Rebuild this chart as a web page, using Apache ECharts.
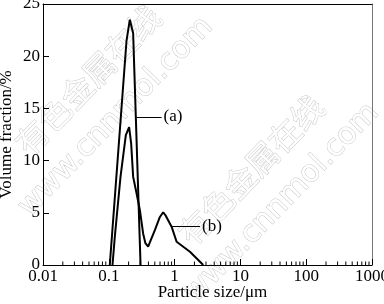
<!DOCTYPE html>
<html>
<head>
<meta charset="utf-8">
<script src="https://cdn.jsdelivr.net/npm/echarts@6/dist/echarts.min.js"></script>
<style>html,body{margin:0;padding:0;background:#fff;}#c{width:384px;height:304px;}</style>
</head>
<body>
<div id="c"></div>
<script>
// Curve (a)
var sizeA = [0.1035, 0.186, 0.2088, 0.2344, 0.3038];
var fracA = [0, 21.5, 23.5, 22.2, 0];
// Curve (b)
var sizeB = [0.1138, 0.1234, 0.1507, 0.1815, 0.2037, 0.2185, 0.2344, 0.264, 0.2964, 0.3328, 0.3594, 0.3964, 0.4359, 0.5015, 0.5975, 0.6706, 0.7373, 0.9, 1.073, 1.71, 2.287, 2.725];
var fracB = [0, 2.7, 8.46, 12.45, 13.2, 11.66, 8.46, 6.87, 5.27, 3.0, 2.1, 1.75, 2.4, 3.35, 4.6, 5.05, 4.7, 3.67, 2.23, 1.27, 0.48, 0];
// Tick labels
var xTickLabels = ['0.01', '0.1', '1', '10', '100', '1000'];
var yTickLabels = ['0', '5', '10', '15', '20', '25'];
// Leader lines for curve labels: [x start, x end, y]
var leaderA = [0.264, 0.634, 14.2];
var leaderB = [0.9, 2.43, 3.67];
var seriesNames = ['(a)', '(b)'];

// minor tick values on the log axis (2..9 of each decade)
var decades = [0.01, 0.1, 1, 10, 100];
var minorMultipliers = [2, 3, 4, 5, 6, 7, 8, 9];
var minorTicks = [];
decades.forEach(function (d) {
  minorMultipliers.forEach(function (k) { minorTicks.push(+(k * d).toPrecision(6)); });
});

function pairs(xs, ys) { return xs.map(function (x, i) { return [x, ys[i]]; }); }

var serif = 'Liberation Serif';
var chart = echarts.init(document.getElementById('c'), null, { renderer: 'canvas' });

function leader(l, name) {
  return {
    silent: true,
    symbol: ['none', 'none'],
    lineStyle: { color: '#000', width: 1, type: 'solid' },
    label: { show: true, position: 'end', formatter: name, color: '#000', fontFamily: serif, fontSize: 17, distance: 2 },
    data: [[{ coord: [l[0], l[2]] }, { coord: [l[1], l[2]] }]]
  };
}

function wm(text, x, y, font, size) {
  return {
    type: 'text', x: x, y: y, rotation: 0.80, z: -10, silent: true,
    style: { text: text, fontFamily: font, fontSize: size, align: 'center', verticalAlign: 'middle',
      fill: '#ffffff', stroke: '#c8c8c8', lineWidth: 1 }
  };
}

chart.setOption({
  backgroundColor: '#fff',
  animation: false,
  graphic: [
    wm('有色金属在线', 88, 80, 'Noto Sans CJK SC', 32),
    wm('www.cnnmol.com', 116, 117, 'DejaVu Sans', 30),
    wm('有色金属在线', 251, 170, 'Noto Sans CJK SC', 32),
    wm('www.cnnmol.com', 282, 203, 'DejaVu Sans', 30)
  ],
  grid: { left: 43, right: 12, top: 4, bottom: 39, containLabel: false, outerBoundsMode: 'none' },
  xAxis: [
    {
      type: 'log', logBase: 10, min: 0.01, max: 1000, position: 'bottom',
      name: 'Particle size/μm', nameLocation: 'middle', nameGap: 19, nameMoveOverlap: false,
      nameTextStyle: { fontFamily: serif, fontSize: 17, color: '#000', padding: [0, 0, 0, 10] },
      axisLine: { show: true, onZero: false, lineStyle: { color: '#000', width: 1 } },
      axisTick: { show: true, inside: true, length: 6, lineStyle: { color: '#000' } },
      axisLabel: {
        fontFamily: serif, fontSize: 17, color: '#000', margin: 3, hideOverlap: false,
        formatter: function (v) { return xTickLabels[Math.round(Math.log10(v)) + 2]; }
      },
      splitLine: { show: false }
    },
    {
      type: 'log', logBase: 10, min: 0.01, max: 1000, position: 'top',
      axisLine: { show: true, onZero: false, lineStyle: { color: '#000', width: 1 } },
      axisTick: { show: false }, axisLabel: { show: false }, splitLine: { show: false }
    }
  ],
  yAxis: [
    {
      type: 'value', min: 0, max: 25, interval: 5, position: 'left',
      name: 'Volume fraction/%', nameLocation: 'middle', nameGap: 28, nameMoveOverlap: false,
      nameTextStyle: { fontFamily: serif, fontSize: 17, color: '#000' },
      axisLine: { show: true, onZero: false, lineStyle: { color: '#000', width: 1 } },
      axisTick: { show: true, inside: true, length: 6, lineStyle: { color: '#000' } },
      axisLabel: {
        fontFamily: serif, fontSize: 17, color: '#000', margin: 3,
        formatter: function (v) { return yTickLabels[Math.round(v / 5)]; }
      },
      splitLine: { show: false }
    },
    {
      type: 'value', min: 0, max: 25, interval: 5, position: 'right',
      axisLine: { show: true, onZero: false, lineStyle: { color: '#777', width: 1 } },
      axisTick: { show: false }, axisLabel: { show: false }, splitLine: { show: false }
    }
  ],
  series: [
    {
      name: 'minorTicks', type: 'custom', xAxisIndex: 0, yAxisIndex: 0, silent: true, clip: false,
      data: minorTicks.map(function (v) { return [v, 0]; }),
      renderItem: function (params, api) {
        var p = api.coord([api.value(0), api.value(1)]);
        return { type: 'line', shape: { x1: p[0], y1: p[1], x2: p[0], y2: p[1] - 3.5 },
          style: { stroke: '#000', lineWidth: 1 } };
      },
      z: 1
    },
    {
      name: seriesNames[0], type: 'line', xAxisIndex: 0, yAxisIndex: 0,
      data: pairs(sizeA, fracA), symbol: 'none', smooth: false,
      lineStyle: { color: '#000', width: 2 },
      markLine: leader(leaderA, seriesNames[0])
    },
    {
      name: seriesNames[1], type: 'line', xAxisIndex: 0, yAxisIndex: 0,
      data: pairs(sizeB, fracB), symbol: 'none', smooth: false,
      lineStyle: { color: '#000', width: 2 },
      markLine: leader(leaderB, seriesNames[1])
    }
  ]
});
</script>
</body>
</html>
